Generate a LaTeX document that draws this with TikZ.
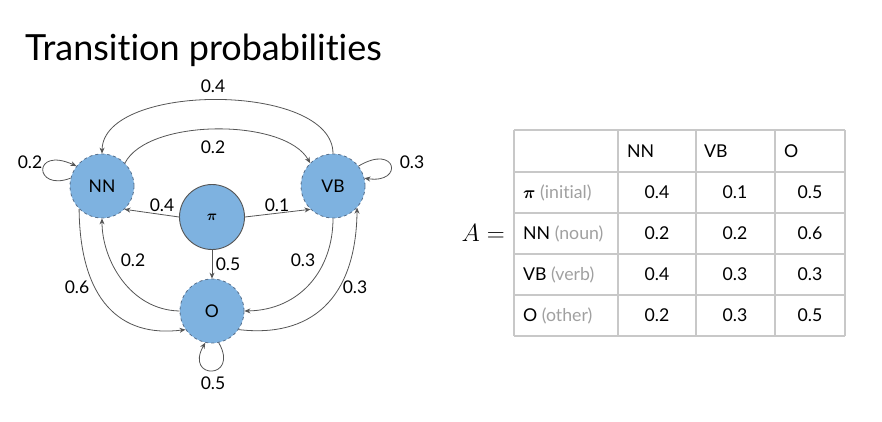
\documentclass[tikz,border=0pt]{standalone}
\usepackage{bm}
\usepackage{fontspec}
\setmainfont{Lato}[Ligatures=NoCommon]
\usetikzlibrary{arrows.meta}
\definecolor{nodefill}{RGB}{126,178,224}
\definecolor{nodeborder}{RGB}{88,112,140}
\definecolor{edgecol}{RGB}{85,85,85}
\definecolor{gridcol}{RGB}{200,200,200}
\definecolor{graytext}{RGB}{160,160,160}
\newcommand{\bpi}{$\bm{\pi}$}
\tikzset{
  statenode/.style={circle,fill=nodefill,draw=nodeborder,dashed,line width=0.8pt,minimum size=64pt,inner sep=0pt,font=\fontsize{17.5}{20}\selectfont},
  pinode/.style={circle,fill=nodefill,draw=edgecol,line width=0.9pt,minimum size=65pt,inner sep=0pt,font=\fontsize{15}{17}\selectfont},
  arr/.style={draw=edgecol,line width=0.8pt,-{Stealth[length=6pt,width=5pt]}},
  lbl/.style={font=\fontsize{17.5}{20}\selectfont,inner sep=0pt},
  cell/.style={font=\fontsize{17.7}{20}\selectfont,inner sep=0pt},
  gridline/.style={draw=gridcol,line width=1.2pt}
}
\begin{document}
\begin{tikzpicture}[x=1pt,y=-1pt]
\useasboundingbox (0,0) rectangle (882,421);
% title
\node[anchor=base west,inner sep=0pt,font=\fontsize{36}{40}\selectfont] (title) at (25,60) {Transition probabilities};
% nodes
\node[statenode] (NN) at (102,186) {NN};
\node[statenode] (VB) at (333,186) {VB};
\node[pinode] (PI) at (212,217) {\bpi};
\node[statenode] (O) at (212,311) {O};
% edges
\draw[arr] (VB.90) .. controls (333,82) and (103,82) .. (NN.90);
\draw[arr] (NN.45) .. controls (148,118) and (285,118) .. (VB.135);
\draw[arr] (PI.west) -- (NN.-46);
\draw[arr] (PI.east) -- (VB.226);
\draw[arr] (PI.south) -- (O.north);
\draw[arr] (NN.225) .. controls (80,300) and (120,338) .. (O.215);
\draw[arr] (O.180) .. controls (130,310) and (102,260) .. (NN.south);
\draw[arr] (VB.south) .. controls (333,270) and (300,310) .. (O.east);
\draw[arr] (O.-35) .. controls (310,338) and (356,300) .. (VB.-42);
% self loops
\draw[arr] (NN.166) .. controls (34,192) and (32,146) .. (NN.142);
\draw[arr] (VB.38) .. controls (397,143) and (404,184) .. (VB.14);
\draw[arr] (O.-78) .. controls (240,380) and (184,380) .. (O.-102);
% labels
\node[lbl] (l1) at (213,86) {0.4};
\node[lbl] (l2) at (213,147) {0.2};
\node[lbl] (l3) at (162,205) {0.4};
\node[lbl] (l4) at (277,205) {0.1};
\node[lbl] (l5) at (228,264) {0.5};
\node[lbl] (l6) at (77,287) {0.6};
\node[lbl] (l7) at (133,260) {0.2};
\node[lbl] (l8) at (303,260) {0.3};
\node[lbl] (l9) at (355,287) {0.3};
\node[lbl] (l10) at (30,162) {0.2};
\node[lbl] (l11) at (412,162) {0.3};
\node[lbl] (l12) at (213,383) {0.5};
% matrix label
\node[anchor=east,inner sep=0pt,font=\fontsize{28}{30}\selectfont] (Aeq) at (505,233) {$A=$};
% table grid
\foreach \yy in {130,172,213,254,295,336} \draw[gridline] (514,\yy) -- (845,\yy);
\foreach \xx in {514,618,696,775,845} \draw[gridline] (\xx,130) -- (\xx,336);
% headers
\node[cell,anchor=west] (h1) at (627,151) {NN};
\node[cell,anchor=west] (h2) at (704,151) {VB};
\node[cell,anchor=west] (h3) at (784,151) {O};
% row labels
\node[cell,anchor=west] (r1) at (523,192.5) {\bpi{} \textcolor{graytext}{(initial)}};
\node[cell,anchor=west] (r2) at (523,233.5) {NN \textcolor{graytext}{(noun)}};
\node[cell,anchor=west] (r3) at (523,274.5) {VB \textcolor{graytext}{(verb)}};
\node[cell,anchor=west] (r4) at (523,315.5) {O \textcolor{graytext}{(other)}};
% values
\node[cell] (v11) at (657,192.5) {0.4};
\node[cell] (v12) at (735,192.5) {0.1};
\node[cell] (v13) at (810,192.5) {0.5};
\node[cell] (v21) at (657,233.5) {0.2};
\node[cell] (v22) at (735,233.5) {0.2};
\node[cell] (v23) at (810,233.5) {0.6};
\node[cell] (v31) at (657,274.5) {0.4};
\node[cell] (v32) at (735,274.5) {0.3};
\node[cell] (v33) at (810,274.5) {0.3};
\node[cell] (v41) at (657,315.5) {0.2};
\node[cell] (v42) at (735,315.5) {0.3};
\node[cell] (v43) at (810,315.5) {0.5};
\end{tikzpicture}
\end{document}
